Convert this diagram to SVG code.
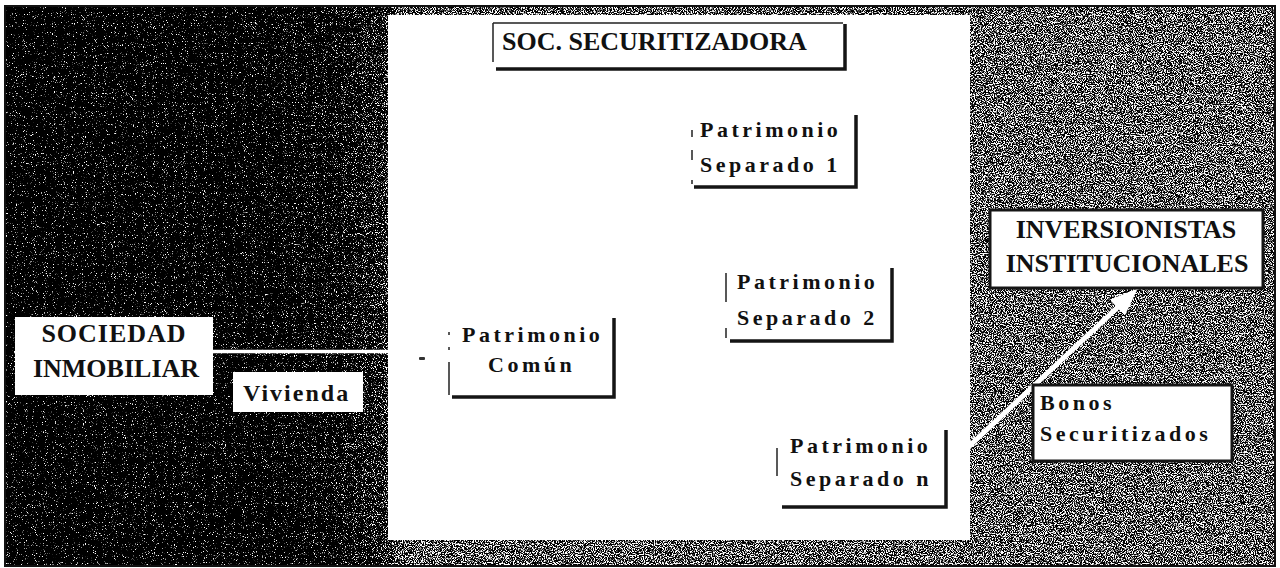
<svg xmlns="http://www.w3.org/2000/svg" width="1280" height="568" viewBox="0 0 1280 568">
  <style>
    .t{font-family:"Liberation Serif","Times New Roman",serif;font-weight:bold;fill:#111}
    .big{font-size:26px}
    .pat{font-size:22px;letter-spacing:3.5px}
    .shadow{fill:none;stroke:#151515;stroke-width:3.5}
    .thin{fill:none;stroke:#222;stroke-width:1.5}
    .box{fill:#fff}
    .bord{fill:#fff;stroke:#151515;stroke-width:3}
    .wire{stroke:#fff;stroke-width:3.5;fill:none}
  </style>
  <defs>
    <linearGradient id="bg" x1="0" y1="0" x2="1" y2="0">
      <stop offset="0" stop-color="#000"/>
      <stop offset="0.2" stop-color="#0a0a0a"/>
      <stop offset="0.26" stop-color="#2a2a2a"/>
      <stop offset="0.30" stop-color="#707070"/>
      <stop offset="0.31" stop-color="#d4d4d4"/>
      <stop offset="1" stop-color="#dadada"/>
    </linearGradient>
    <filter id="grain" x="0" y="0" width="1" height="1" color-interpolation-filters="sRGB">
      <feTurbulence type="fractalNoise" baseFrequency="0.9" numOctaves="2" seed="7" result="t"/>
      <feColorMatrix in="t" type="matrix" values="1 0 0 0 0  1 0 0 0 0  1 0 0 0 0  0 0 0 0 1" result="g"/>
      <feComposite in="g" in2="SourceGraphic" operator="arithmetic" k1="0" k2="8" k3="1.6" k4="-5.1" result="m"/>
      <feComposite in="m" in2="SourceGraphic" operator="in"/>
    </filter>
    <marker id="ah" markerUnits="userSpaceOnUse" markerWidth="29" markerHeight="22" refX="1" refY="11" orient="auto">
      <path d="M0,0 L28,11 L0,22 z" fill="#fff"/>
    </marker>
  </defs>

  <rect x="0" y="0" width="1280" height="568" fill="#fff"/>
  <rect x="5" y="6" width="1270" height="560" fill="url(#bg)" filter="url(#grain)"/>
  <rect x="5" y="6" width="1270" height="560" fill="none" stroke="#111" stroke-width="2"/>
  <rect id="panel" x="388" y="15" width="582" height="525" fill="#fff"/>

  <g id="connectors">
    <line class="wire" x1="213" y1="351.5" x2="388" y2="351.5"/>
    <rect x="419" y="357" width="6" height="3" rx="1" fill="#333"/>
    <line x1="948" y1="466" x2="1118" y2="307" stroke="#fff" stroke-width="5" marker-end="url(#ah)"/>
  </g>

  <g id="soc-securitizadora">
    <rect class="box" x="493" y="23" width="352" height="46"/>
    <path class="thin" d="M493,23 H843 M493,23 V62"/>
    <path class="shadow" d="M845,24 V69 H496"/>
    <text class="t big" x="502" y="50">SOC. SECURITIZADORA</text>
  </g>

  <g id="sociedad-inmobiliar">
    <rect class="box" x="15" y="317" width="198" height="78"/>
    <text class="t big" x="114" y="342" text-anchor="middle" letter-spacing="1">SOCIEDAD</text>
    <text class="t big" x="116" y="377" text-anchor="middle">INMOBILIAR</text>
  </g>

  <g id="vivienda">
    <rect class="box" x="233" y="372" width="130" height="40"/>
    <text class="t" x="243" y="401" font-size="24" letter-spacing="2">Vivienda</text>
  </g>

  <g id="patrimonio-comun">
    <rect class="box" x="449" y="318" width="165" height="79"/>
    <path class="thin" d="M449,332 V335 M449,347 V350 M449,362 V395"/>
    <path class="shadow" d="M614,318 V397 H452"/>
    <text class="t pat" x="462" y="342">Patrimonio</text>
    <text class="t pat" x="488" y="372">Común</text>
  </g>

  <g id="patrimonio-separado-1">
    <rect class="box" x="692" y="115" width="164" height="72"/>
    <path class="thin" d="M692,130 V137 M692,150 V160 M692,180 V184"/>
    <path class="shadow" d="M856,115 V187 H694"/>
    <text class="t pat" x="700" y="137">Patrimonio</text>
    <text class="t pat" x="700" y="172">Separado 1</text>
  </g>

  <g id="patrimonio-separado-2">
    <rect class="box" x="726" y="268" width="166" height="73"/>
    <path class="thin" d="M726,273 V302 M726,328 V338"/>
    <path class="shadow" d="M892,268 V341 H730"/>
    <text class="t pat" x="737" y="289">Patrimonio</text>
    <text class="t pat" x="737" y="325">Separado 2</text>
  </g>

  <g id="patrimonio-separado-n">
    <rect class="box" x="777" y="430" width="169" height="77"/>
    <path class="thin" d="M777,448 V476"/>
    <path class="shadow" d="M946,430 V507 H782"/>
    <text class="t pat" x="790" y="453">Patrimonio</text>
    <text class="t pat" x="790" y="486">Separado n</text>
  </g>

  <g id="inversionistas-institucionales">
    <rect class="bord" x="990" y="210" width="273" height="78"/>
    <text class="t big" x="1126" y="238" text-anchor="middle">INVERSIONISTAS</text>
    <text class="t big" x="1127" y="272" text-anchor="middle">INSTITUCIONALES</text>
  </g>

  <g id="bonos-securitizados">
    <rect class="bord" x="1033" y="385" width="199" height="76"/>
    <text class="t pat" x="1040" y="410" letter-spacing="3.2">Bonos</text>
    <text class="t pat" x="1040" y="441" letter-spacing="3.2">Securitizados</text>
  </g>
</svg>
